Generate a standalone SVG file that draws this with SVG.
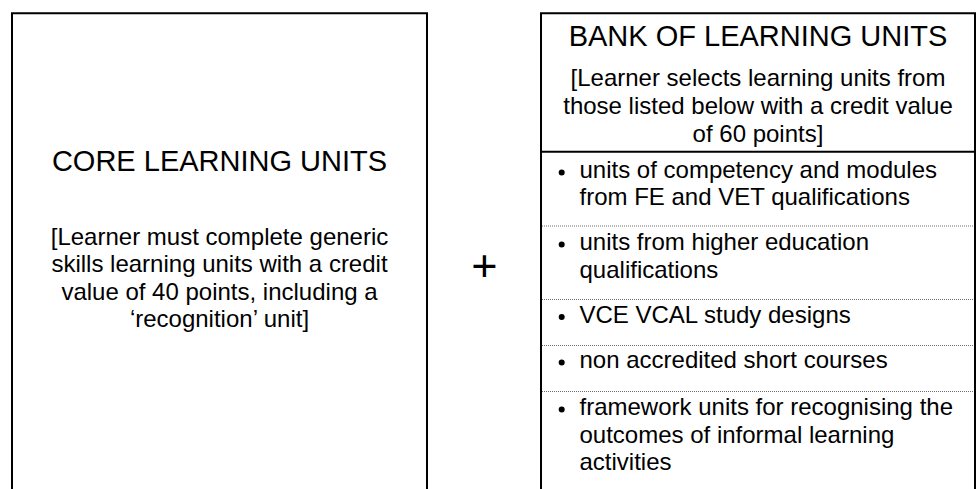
<svg xmlns="http://www.w3.org/2000/svg" width="980" height="489" viewBox="0 0 980 489">
<style>
  .frame { fill: none; stroke: #000; stroke-width: 2; }
  .sep { stroke: #000; stroke-width: 2; }
  .dot { stroke: #6e6e6e; stroke-width: 1; stroke-dasharray: 1 1; }
  .h { font-family: "Liberation Sans", Arial, sans-serif; font-size: 29px; fill: #000; text-anchor: middle; }
  .b { font-family: "Liberation Sans", Arial, sans-serif; font-size: 24px; fill: #000; }
  .c { text-anchor: middle; }
  .bul { fill: #000; }
</style>
<rect width="980" height="489" fill="#fff"/>
<g id="core">
  <path class="frame" d="M12,490 V13.3 H427 V490"/>
  <text class="h" x="219.5" y="170.5">CORE LEARNING UNITS</text>
  <text class="b c" x="219.5" y="244.5">[Learner must complete generic</text>
  <text class="b c" x="219.5" y="272">skills learning units with a credit</text>
  <text class="b c" x="219.5" y="299.5">value of 40 points, including a</text>
  <text class="b c" x="219.5" y="327">‘recognition’ unit]</text>
</g>
<g id="plus">
  <text x="484.3" y="281" style="font-family:'Liberation Sans',Arial,sans-serif;font-size:45px;text-anchor:middle;fill:#000">+</text>
</g>
<g id="bank">
  <path class="frame" d="M541,490 V13.3 H975 V490"/>
  <line class="sep" x1="541" y1="151.7" x2="975" y2="151.7"/>
  <text class="h" x="758" y="45.5">BANK OF LEARNING UNITS</text>
  <text class="b c" x="758" y="86">[Learner selects learning units from</text>
  <text class="b c" x="758" y="114">those listed below with a credit value</text>
  <text class="b c" x="758" y="142">of 60 points]</text>
  <line class="dot" x1="542" y1="226" x2="974" y2="226"/>
  <line class="dot" x1="542" y1="299.5" x2="974" y2="299.5"/>
  <line class="dot" x1="542" y1="345.5" x2="974" y2="345.5"/>
  <line class="dot" x1="542" y1="391.5" x2="974" y2="391.5"/>
  <circle class="bul" cx="561.7" cy="172.5" r="3"/>
  <circle class="bul" cx="561.7" cy="244.5" r="3"/>
  <circle class="bul" cx="561.7" cy="317" r="3"/>
  <circle class="bul" cx="561.7" cy="362.5" r="3"/>
  <circle class="bul" cx="561.7" cy="409.5" r="3"/>
  <text class="b" x="579.5" y="178">units of competency and modules</text>
  <text class="b" x="579.5" y="205">from FE and VET qualifications</text>
  <text class="b" x="579.5" y="250">units from higher education</text>
  <text class="b" x="579.5" y="277.5">qualifications</text>
  <text class="b" x="579.5" y="322.5">VCE VCAL study designs</text>
  <text class="b" x="579.5" y="368">non accredited short courses</text>
  <text class="b" x="579.5" y="415">framework units for recognising the</text>
  <text class="b" x="579.5" y="442.5">outcomes of informal learning</text>
  <text class="b" x="579.5" y="470">activities</text>
</g>
</svg>
